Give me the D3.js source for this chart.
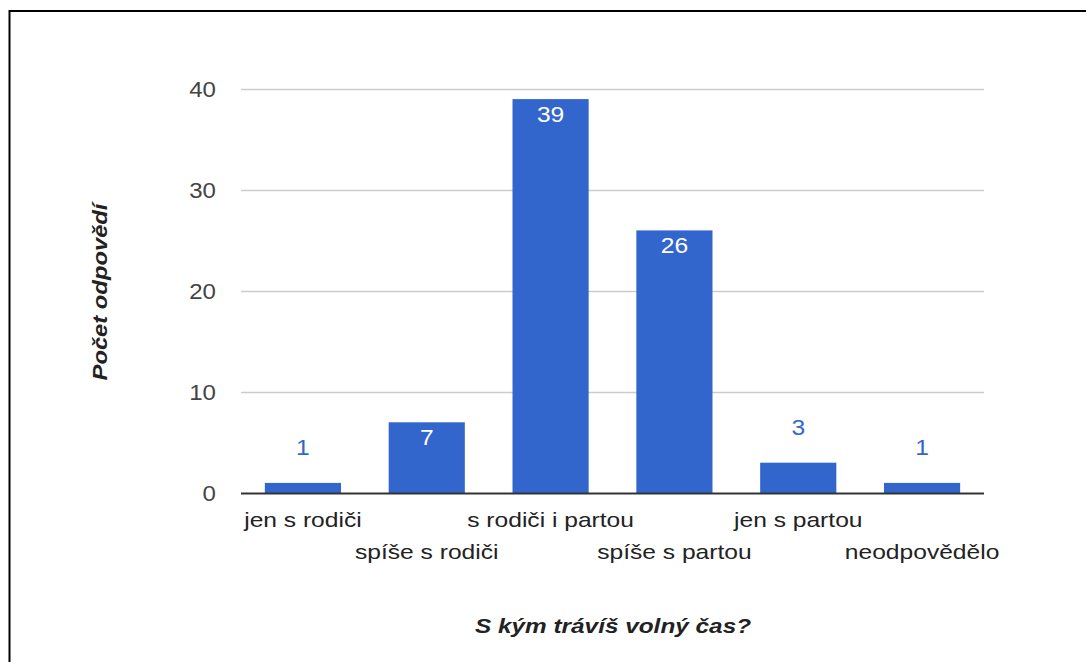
<!DOCTYPE html>
<html lang="cs">
<head>
<meta charset="utf-8">
<style>
  body { margin: 0; background: #fff; }
  text { font-family: "Liberation Sans", Arial, sans-serif; }
</style>
</head>
<body>
<script src="https://d3js.org/d3.v7.min.js"></script>
<script>
// data
var categories = ["jen s rodiči", "spíše s rodiči", "s rodiči i partou", "spíše s partou", "jen s partou", "neodpovědělo"];
var values = [1, 7, 39, 26, 3, 1];
var yTicks = [0, 10, 20, 30, 40];

var W = 1086, H = 662;
var svg = d3.select("body").append("svg")
  .attr("width", W)
  .attr("height", H);

// the reference text is a bit stretched sideways
var SX = 1.2;

// frame (top + left edge)
svg.append("path")
  .attr("d", "M9.5,700 L9.5,11 L1100,11")
  .attr("fill", "none")
  .attr("stroke", "#000")
  .attr("stroke-width", 2);

var x = d3.scaleBand()
  .domain(categories)
  .range([241, 984])
  .paddingInner(0.385)
  .paddingOuter(0.1925);

var y = d3.scaleLinear()
  .domain([0, 40])
  .range([493, 89]);

// gridlines
svg.append("g").selectAll("line")
  .data(yTicks.filter(function (d) { return d > 0; }))
  .enter().append("line")
  .attr("x1", 241).attr("x2", 984)
  .attr("y1", function (d) { return y(d) + 0.5; })
  .attr("y2", function (d) { return y(d) + 0.5; })
  .attr("stroke", "#cccccc")
  .attr("stroke-width", 1.5);

// y tick labels
svg.append("g").selectAll("text")
  .data(yTicks)
  .enter().append("text")
  .attr("transform", function (d) { return "translate(216," + (y(d) + 8) + ") scale(1.12,1)"; })
  .attr("text-anchor", "end")
  .attr("font-size", 21.5)
  .attr("fill", "#444")
  .text(function (d) { return d; });

// bars
svg.append("g").selectAll("rect")
  .data(values)
  .enter().append("rect")
  .attr("x", function (d, i) { return x(categories[i]); })
  .attr("width", x.bandwidth())
  .attr("y", function (d) { return y(d); })
  .attr("height", function (d) { return y(0) - y(d); })
  .attr("fill", "#3366cc");

// baseline
svg.append("line")
  .attr("x1", 241).attr("x2", 984)
  .attr("y1", y(0) + 0.5).attr("y2", y(0) + 0.5)
  .attr("stroke", "#333")
  .attr("stroke-width", 2);

// value labels: inside tall bars, above short ones
function inside(d) { return y(0) - y(d) > 40; }
svg.append("g").selectAll("text")
  .data(values)
  .enter().append("text")
  .attr("transform", function (d, i) {
    var cx = x(categories[i]) + x.bandwidth() / 2;
    var ty = inside(d) ? y(d) + 23 : y(d) - 28;
    return "translate(" + cx + "," + ty + ") scale(1.12,1)";
  })
  .attr("text-anchor", "middle")
  .attr("font-size", 22)
  .attr("fill", function (d) { return inside(d) ? "#ffffff" : "#3366cc"; })
  .text(function (d) { return d; });

// category labels, alternating rows
svg.append("g").selectAll("text")
  .data(categories)
  .enter().append("text")
  .attr("transform", function (d, i) {
    var cx = x(d) + x.bandwidth() / 2;
    var ty = i % 2 === 0 ? 527 : 559;
    return "translate(" + cx + "," + ty + ") scale(" + SX + ",1)";
  })
  .attr("text-anchor", "middle")
  .attr("font-size", 20.5)
  .attr("fill", "#222")
  .text(function (d) { return d; });

// axis titles
svg.append("text")
  .attr("transform", "translate(613,633) scale(1.16,1)")
  .attr("text-anchor", "middle")
  .attr("font-size", 21)
  .attr("font-style", "italic")
  .attr("font-weight", "bold")
  .attr("fill", "#222")
  .text("S kým trávíš volný čas?");

svg.append("text")
  .attr("transform", "translate(107,292) rotate(-90) scale(1.16,1)")
  .attr("text-anchor", "middle")
  .attr("font-size", 20.5)
  .attr("font-style", "italic")
  .attr("font-weight", "bold")
  .attr("fill", "#222")
  .text("Počet odpovědí");
</script>
</body>
</html>
